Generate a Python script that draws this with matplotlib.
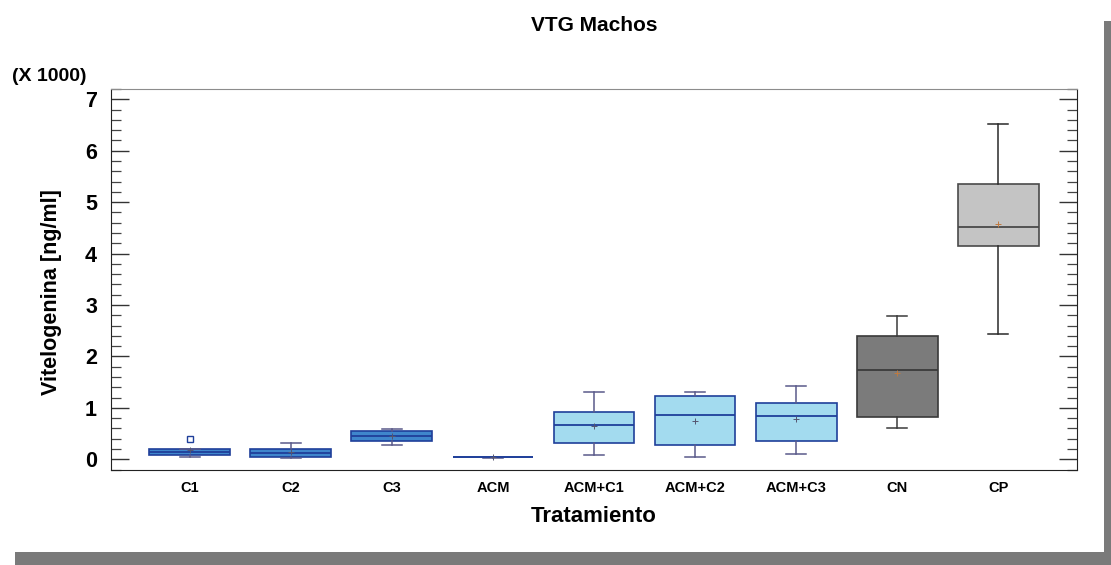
import matplotlib
matplotlib.use("Agg")
import matplotlib.pyplot as plt
from matplotlib.patches import Rectangle
from matplotlib.ticker import MultipleLocator

plt.rcParams['font.family'] = ['Liberation Sans', 'DejaVu Sans']

# Vitelogenina por tratamiento (x 1000 ng/ml)
tratamientos = ["C1", "C2", "C3", "ACM", "ACM+C1", "ACM+C2", "ACM+C3", "CN", "CP"]
bigote_inf = [0.04, 0.025, 0.27, 0.030, 0.09, 0.05, 0.11, 0.61, 2.44]
cuartil_1 = [0.08, 0.05, 0.35, 0.035, 0.32, 0.27, 0.36, 0.82, 4.14]
mediana = [0.14, 0.12, 0.45, 0.040, 0.67, 0.86, 0.84, 1.74, 4.51]
cuartil_3 = [0.19, 0.19, 0.55, 0.045, 0.91, 1.23, 1.10, 2.40, 5.36]
bigote_sup = [0.19, 0.32, 0.58, 0.050, 1.31, 1.31, 1.43, 2.79, 6.52]
media = [0.17, 0.15, 0.46, 0.040, 0.65, 0.75, 0.78, 1.67, 4.58]
atipicos = [[0.39], [], [], [], [], [], [], [], []]

relleno = ["#3f86cc"] * 4 + ["#a3dbef"] * 3 + ["#7b7b7b", "#c4c4c4"]
borde = ["#1f3f9a"] * 7 + ["#3a3a3a", "#4a4a4a"]
bigote_col = ["#5a5a8a"] * 7 + ["#3a3a3a", "#2a2a2a"]
media_col = ["#555570"] * 7 + ["#c07a40", "#c07a40"]

stats = []
for i, nombre in enumerate(tratamientos):
    stats.append(dict(label=nombre, whislo=bigote_inf[i], q1=cuartil_1[i], med=mediana[i],
                      q3=cuartil_3[i], whishi=bigote_sup[i], mean=media[i], fliers=atipicos[i]))

fig = plt.figure(figsize=(11.11, 5.65), dpi=100)
ax = fig.add_axes([0.0999, 0.1681, 0.8695, 0.6744])

for i, st in enumerate(stats):
    ax.bxp([st], positions=[i + 1], widths=0.8, patch_artist=True, showmeans=True,
           showcaps=True, capwidths=[0.2],
           boxprops=dict(facecolor=relleno[i], edgecolor=borde[i], linewidth=1.2),
           medianprops=dict(color=borde[i], linewidth=1.3),
           whiskerprops=dict(color=bigote_col[i], linewidth=1.1),
           capprops=dict(color=bigote_col[i], linewidth=1.1),
           meanprops=dict(marker='+', markeredgecolor=media_col[i], markersize=5,
                          markeredgewidth=0.7),
           flierprops=dict(marker='s', markerfacecolor='white', markeredgecolor=borde[i],
                           markersize=5, markeredgewidth=1.0))

ax.set_xlim(0.22, 9.78)
ax.set_ylim(-0.21, 7.2)
ax.set_xticks(range(1, len(tratamientos) + 1))
ax.set_xticklabels(tratamientos, fontsize=10.5, fontweight='bold')
ax.yaxis.set_major_locator(MultipleLocator(1))
ax.yaxis.set_minor_locator(MultipleLocator(0.2))
ax.tick_params(axis='x', length=0, pad=8)
ax.tick_params(axis='y', which='major', direction='in', length=13, width=1.0,
               left=True, right=True, labelsize=15.5, color='#333333', pad=10)
ax.tick_params(axis='y', which='minor', direction='in', length=7, width=0.9,
               left=True, right=True, color='#444444')
for lbl in ax.get_yticklabels():
    lbl.set_fontweight('bold')

for lado in ['left', 'bottom', 'right']:
    ax.spines[lado].set_color('#222222')
ax.spines['top'].set_color('#8c8c8c')

ax.set_title("VTG Machos", fontsize=15, fontweight='bold', pad=42)
ax.set_xlabel("Tratamiento", fontsize=16, fontweight='bold', labelpad=8)
ax.set_ylabel("Vitelogenina [ng/ml]", fontsize=15.5, fontweight='bold')
ax.yaxis.set_label_coords(-0.051, 0.467)
fig.text(0.011, 0.864, "(X 1000)", fontsize=14, fontweight='bold', va='center', ha='left')

# sombra del marco
fig.add_artist(Rectangle((0.9937, 0.0), 0.0063, 0.963, transform=fig.transFigure,
                         facecolor='#7a7a7a', edgecolor='none'))
fig.add_artist(Rectangle((0.0135, 0.0), 0.9865, 0.023, transform=fig.transFigure,
                         facecolor='#7a7a7a', edgecolor='none'))

fig.savefig("out.png", dpi=100)
